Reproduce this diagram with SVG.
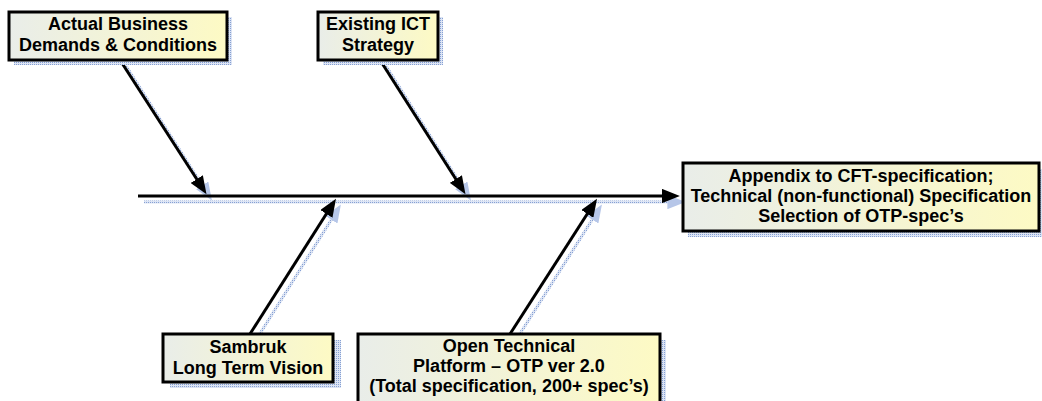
<svg xmlns="http://www.w3.org/2000/svg" width="1042" height="401" viewBox="0 0 1042 401">
  <defs>
    <linearGradient id="boxfill" x1="0" y1="0" x2="1" y2="0">
      <stop offset="0" stop-color="#e9ede9"/>
      <stop offset="1" stop-color="#fdfac4"/>
    </linearGradient>
    <pattern id="dots" patternUnits="userSpaceOnUse" width="2" height="2">
      <rect width="2" height="2" fill="#dce4f4"/>
      <rect width="1" height="1" fill="#86a0d3"/>
    </pattern>
    <marker id="arrow" viewBox="0 0 10 8" markerWidth="6" markerHeight="4.8" refX="7" refY="4" orient="auto" markerUnits="strokeWidth">
      <path d="M0,0 L10,4 L0,8 z" fill="#000"/>
    </marker>
    <marker id="arrowShadow" viewBox="0 0 10 8" markerWidth="6" markerHeight="4.8" refX="7" refY="4" orient="auto" markerUnits="strokeWidth">
      <path d="M0,0 L10,4 L0,8 z" fill="#b6c6e8"/>
    </marker>
  </defs>
  <style>
    .box { fill: url(#boxfill); stroke: #000; stroke-width: 3; }
    .shadow { fill: url(#dots); }
    .lbl { font-family: "Liberation Sans", Arial, sans-serif; font-weight: bold; font-size: 18px; fill: #000; text-anchor: middle; }
    .conn { stroke: #000; stroke-width: 3; fill: none; marker-end: url(#arrow); }
    .connShadow { stroke: url(#dots); stroke-width: 3; fill: none; marker-end: url(#arrowShadow); }
  </style>

  <g id="connector-shadows">
    <line class="connShadow" x1="144" y1="202" x2="680" y2="202"/>
    <line class="connShadow" x1="126" y1="66" x2="209" y2="196"/>
    <line class="connShadow" x1="386" y1="66" x2="468" y2="196"/>
    <line class="connShadow" x1="256" y1="340" x2="338" y2="209"/>
    <line class="connShadow" x1="516" y1="340" x2="599" y2="209"/>
  </g>

  <g id="connectors">
    <line class="conn" x1="138" y1="196" x2="674.5" y2="196"/>
    <line class="conn" x1="120" y1="60" x2="203.6" y2="189.7"/>
    <line class="conn" x1="380" y1="60" x2="462.6" y2="189.7"/>
    <line class="conn" x1="250" y1="334" x2="333.1" y2="203.3"/>
    <line class="conn" x1="510" y1="334" x2="594.1" y2="203.3"/>
  </g>

  <g id="node-business">
    <rect class="shadow" x="14" y="17" width="218" height="48"/>
    <rect class="box" x="9" y="12" width="218" height="48"/>
    <text class="lbl" x="118" y="30">Actual Business</text>
    <text class="lbl" x="118" y="51">Demands &amp; Conditions</text>
  </g>

  <g id="node-ict">
    <rect class="shadow" x="323" y="17" width="120" height="48"/>
    <rect class="box" x="318" y="12" width="120" height="48"/>
    <text class="lbl" x="378" y="30">Existing ICT</text>
    <text class="lbl" x="378" y="51">Strategy</text>
  </g>

  <g id="node-appendix">
    <rect class="shadow" x="688" y="169" width="356" height="68"/>
    <rect class="box" x="683" y="163" width="356" height="68"/>
    <text class="lbl" x="861" y="182">Appendix to CFT-specification;</text>
    <text class="lbl" x="861" y="202">Technical (non-functional) Specification</text>
    <text class="lbl" x="861" y="222">Selection of OTP-spec’s</text>
  </g>

  <g id="node-sambruk">
    <rect class="shadow" x="170" y="340" width="171" height="48"/>
    <rect class="box" x="163" y="334" width="170" height="48"/>
    <text class="lbl" x="248" y="353">Sambruk</text>
    <text class="lbl" x="248" y="374">Long Term Vision</text>
  </g>

  <g id="node-otp">
    <rect class="shadow" x="364" y="340" width="302" height="80"/>
    <rect class="box" x="358" y="334" width="302" height="80"/>
    <text class="lbl" x="509" y="352">Open Technical</text>
    <text class="lbl" x="509" y="372">Platform – OTP ver 2.0</text>
    <text class="lbl" x="509" y="392">(Total specification, 200+ spec’s)</text>
  </g>
</svg>
